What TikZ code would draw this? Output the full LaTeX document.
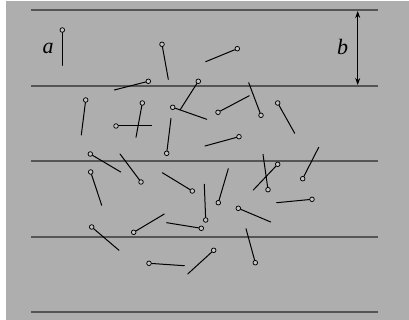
\documentclass[tikz,border=0pt]{standalone}
\usepackage{fontspec}
\setmainfont{Liberation Serif}
\usetikzlibrary{arrows.meta}
\definecolor{bgray}{RGB}{174,174,174}
\definecolor{lgray}{RGB}{85,85,85}
\definecolor{pinfill}{RGB}{196,196,196}
\tikzset{
  rule/.style={draw=lgray,line width=1.3pt},
  pinhead/.style={circle,draw=black,fill=pinfill,line width=0.75pt,inner sep=0pt,minimum size=4.6pt},
  shaft/.style={draw=black,line width=1pt,line cap=round},
  lab/.style={font=\fontsize{22}{24}\selectfont\itshape,inner sep=0pt},
  gap/.style={draw=black,line width=0.8pt,{Stealth[length=7pt,width=5pt]}-{Stealth[length=7pt,width=5pt]}}
}
\newcommand{\needle}[3]{%
  \coordinate (#1e) at (#3);
  \node[pinhead] (#1) at (#2) {};
  \draw[shaft] (#1) -- (#1e);
}
\begin{document}
\begin{tikzpicture}[x=1pt,y=-1pt]
\useasboundingbox (0,0) rectangle (409,320);
\fill[bgray] (6,1) rectangle (409,320);
% rules
\foreach \i/\y in {1/10,2/86,3/161,4/237,5/312}{
  \coordinate (L\i) at (31,\y);
  \coordinate (R\i) at (378,\y);
  \draw[rule] (L\i) -- (R\i);
}
% b arrow
\coordinate (bt) at (357.7,11);
\coordinate (bb) at (357.7,85);
\draw[gap] (bt) -- (bb);
\node[lab] (b) at (342.5,47) {b};
\node[lab] (a) at (48,48.5) {a};
% needles
\needle{n1}{62.3,30}{62.3,65.3}
\needle{n2}{162,44.3}{168.3,79.3}
\needle{n3}{237.3,48.7}{205.7,61.7}
\needle{n4}{148.3,81.3}{114.3,90}
\needle{n5}{198.3,81.3}{180,110}
\needle{n6}{172.7,107.3}{206.7,119.3}
\needle{n7}{218,112.3}{249.3,95.7}
\needle{n8}{261,115.3}{248.7,82.7}
\needle{n9}{277.7,103}{294.7,133.3}
\needle{n10}{85.7,100}{81.3,135}
\needle{n11}{142.3,103}{136,137.3}
\needle{n12}{116,126}{151.7,126}
\needle{n13}{166.7,153.3}{171,118.3}
\needle{n14}{239,136.7}{205,146}
\needle{n15}{90.3,154}{120.7,172}
\needle{n16}{141,182}{120,154}
\needle{n17}{90.7,172}{101.7,205.3}
\needle{n18}{192.3,191}{162.3,172.7}
\needle{n19}{133.7,232.3}{164.3,214}
\needle{n20}{201.3,228.3}{166.7,222.7}
\needle{n21}{91.7,227}{119,250.3}
\needle{n22}{149,263.3}{184.3,265.7}
\needle{n23}{213.7,250.3}{187.7,274}
\needle{n24}{255.3,262.7}{246,228.7}
\needle{n25}{238.3,208.3}{270.7,222}
\needle{n26}{205.7,220}{204.3,184.3}
\needle{n27}{218.3,202.7}{228.3,168.7}
\needle{n28}{268,189.7}{263,154.3}
\needle{n29}{277.7,164.3}{253.3,190}
\needle{n30}{302.7,178.7}{318.7,147.3}
\needle{n31}{312,199.3}{276.7,202.7}
\end{tikzpicture}
\end{document}
